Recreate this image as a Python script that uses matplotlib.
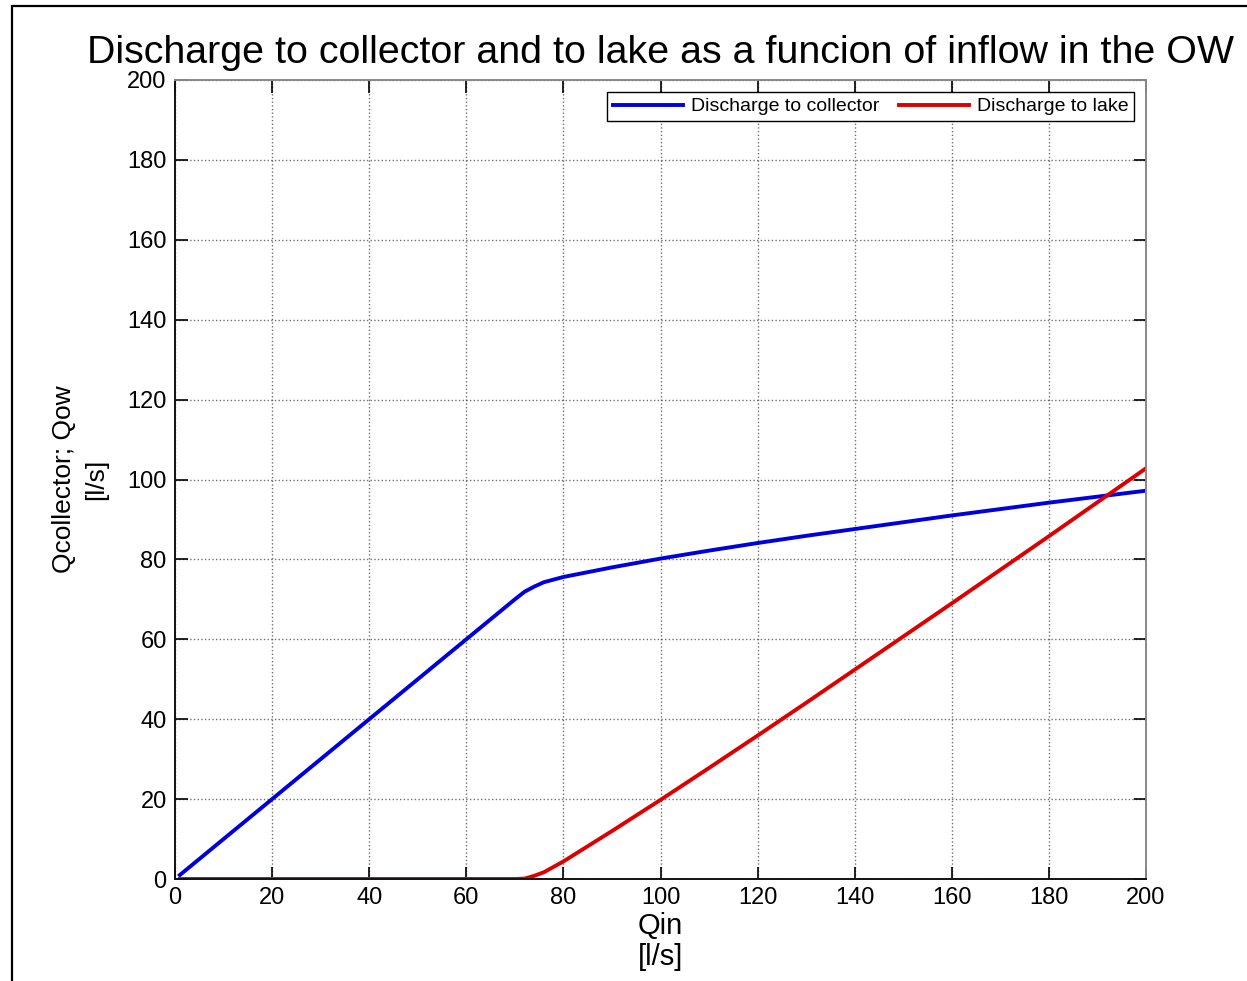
import numpy as np
import matplotlib
matplotlib.use('Agg')
import matplotlib.pyplot as plt
from matplotlib.patches import Rectangle

plt.rcParams['font.family'] = ['Liberation Sans', 'DejaVu Sans']

# values
qin = [1, 10, 20, 30, 40, 50, 60, 70, 72, 74, 76, 80, 90, 100, 110, 120,
       130, 140, 150, 160, 170, 180, 190, 200]
q_collector = [1, 10, 20, 30, 40, 50, 60, 70, 71.9, 73.2, 74.3, 75.6, 78.0, 80.2,
               82.2, 84.1, 85.9, 87.6, 89.3, 91.0, 92.6, 94.2, 95.7, 97.2]
q_lake = [0, 0, 0, 0, 0, 0, 0, 0, 0.1, 0.8, 1.7, 4.4, 12.0, 19.8,
          27.8, 35.9, 44.1, 52.4, 60.7, 69.0, 77.4, 85.8, 94.3, 102.8]
ticks = list(range(0, 201, 20))

W, H = 1247, 981
fig = plt.figure(figsize=(W/100, H/100), dpi=100)
ax = fig.add_axes([175/W, 1-879/H, (1146-175)/W, (879-80)/H])

ax.plot(qin, q_collector, color='#0000dd', lw=2.8, label='Discharge to collector')
ax.plot(qin, q_lake, color='#dd0000', lw=2.8, label='Discharge to lake')

ax.set_xlim(0, 200); ax.set_ylim(0, 200)
ax.set_xticks(ticks); ax.set_yticks(ticks)
ax.tick_params(direction='in', length=9, width=1.2, top=True, right=True,
               labelsize=17, pad=6)
ax.grid(True, color='#333333', ls=':', lw=1.0, alpha=0.7)
for s in ['top', 'right']:
    ax.spines[s].set_color('#888888')
for s in ['left', 'bottom']:
    ax.spines[s].set_color('#111111')
for s in ax.spines.values():
    s.set_linewidth(1.4)

ax.set_title('Discharge to collector and to lake as a funcion of inflow in the OW',
             fontsize=28.4, pad=12)
ax.set_xlabel('Qin\n[l/s]', fontsize=21, labelpad=2, linespacing=1.15)
ax.set_ylabel('Qcollector; Qow\n[l/s]', fontsize=19, labelpad=14, linespacing=1.4)

leg = ax.legend(loc='upper right', ncol=2, fontsize=14, handlelength=3.6,
                fancybox=False, framealpha=1, edgecolor='black',
                borderpad=0.3, columnspacing=1.0, handletextpad=0.4,
                borderaxespad=0, bbox_to_anchor=(1 - 12/971, 1 - 12/799))
leg.get_frame().set_linewidth(1.0)

# figure frame (only left and top edges show in the reference)
fig.add_artist(Rectangle((12/W, -0.5), 2, 1.5 - 6/H, transform=fig.transFigure,
                         fill=False, lw=1.6, edgecolor='black'))

fig.savefig('out.png', dpi=100)
